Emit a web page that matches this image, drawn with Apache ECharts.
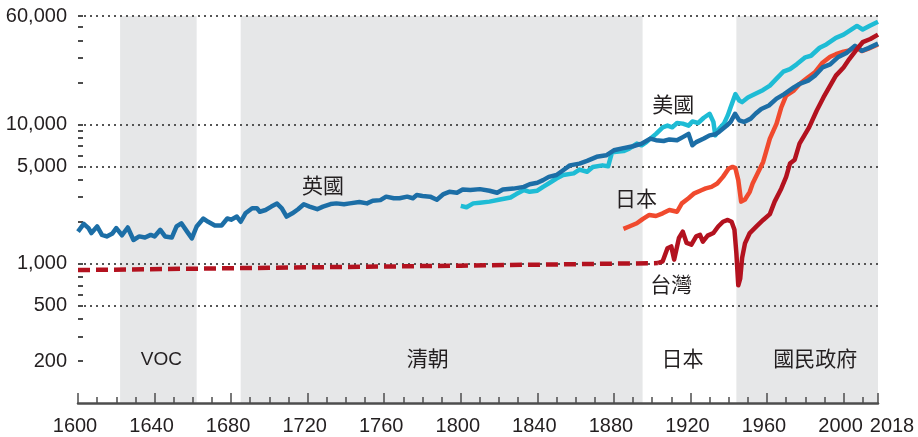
<!DOCTYPE html>
<html>
<head>
<meta charset="utf-8">
<script src="https://cdn.jsdelivr.net/npm/echarts@6/dist/echarts.min.js"></script>
<style>
  html, body { margin: 0; padding: 0; background: #fff; }
  #chart { width: 918px; height: 437px; }
</style>
</head>
<body>
<div id="chart"></div>
<script>
// ====== 人均GDP 長期比較（對數座標）======

const NUM_FONT = "'Liberation Sans Narrow', 'Liberation Sans', Arial, sans-serif";
const CJK_FONT = "'Noto Sans CJK TC', 'Noto Sans CJK SC', sans-serif";
const TXT = '#231f20';
const AX = '#4d4d4d';

// ---- 座標刻度 ----
const yLabelValues = [200, 500, 1000, 5000, 10000, 60000];
const yGridValues  = [500, 1000, 5000, 10000, 60000];
const yMinorValues = [300, 400, 600, 700, 800, 900, 2000, 3000, 4000,
                      6000, 7000, 8000, 9000, 20000, 30000, 40000, 50000];
const xLabelYears  = [1600, 1640, 1680, 1720, 1760, 1800, 1840, 1880, 1920, 1960, 2000, 2018];
const xMinorYears  = [1600, 1610, 1620, 1630, 1640, 1650, 1660, 1670, 1680, 1690, 1700,
                      1710, 1720, 1730, 1740, 1750, 1760, 1770, 1780, 1790, 1800, 1810,
                      1820, 1830, 1840, 1850, 1860, 1870, 1880, 1890, 1900, 1910, 1920,
                      1930, 1940, 1950, 1960, 1970, 1980, 1990, 2000, 2010, 2018];

// ---- 時期 ----
const periodNames = ['VOC', '清朝', '日本', '國民政府'];
const periodStart = [1622, 1685, 1895, 1944];
const periodEnd   = [1662, 1895, 1944, 2018];

// ---- 資料 [年, 值] ----
const ukData = [
  [1600,1700],[1603,1930],[1605.5,1800],[1607,1660],[1610,1850],[1612.5,1610],[1615,1570],
  [1618,1650],[1620,1800],[1623,1600],[1626,1820],[1629,1480],[1632,1570],[1635,1540],
  [1638,1610],[1640,1570],[1643,1750],[1645.5,1570],[1649,1540],[1651.5,1850],[1654,1950],
  [1657,1700],[1659.5,1520],[1662,1850],[1665.5,2110],[1668,2000],[1671.5,1880],[1675,1880],
  [1678,2110],[1680,2070],[1683,2180],[1685,2000],[1687.5,2300],[1691,2500],[1693.5,2500],
  [1695,2360],[1698,2430],[1701,2570],[1704,2700],[1706.5,2500],[1709,2180],[1712,2300],
  [1715,2460],[1718,2670],[1721,2570],[1725,2460],[1728,2570],[1732,2680],[1735,2710],
  [1739,2670],[1742,2710],[1747,2770],[1751,2710],[1754,2830],[1758,2860],[1761,3030],
  [1765,2950],[1768,2950],[1772,3030],[1775,2950],[1777,3110],[1780,3060],[1784,3030],
  [1787.5,2880],[1791,3160],[1794,3280],[1798,3230],[1801,3410],[1805,3380],[1810,3430],
  [1815,3340],[1819,3230],[1822,3410],[1827.5,3460],[1833,3560],[1836,3720],[1840,3810],
  [1843,3980],[1846,4200],[1850,4330],[1853.5,4690],[1857,5080],[1862,5230],[1866,5470],
  [1871,5850],[1876,6000],[1880,6520],[1885,6750],[1890,6970],[1894.5,7280],[1899,7910],
  [1902,7700],[1906,7600],[1909,7800],[1913,7690],[1916,8100],[1919,8550],[1921,7080],
  [1923,7460],[1927,7910],[1930,8340],[1933,8490],[1935,8850],[1939,9800],[1941,10420],
  [1943.3,11920],[1945.5,10680],[1948,10420],[1951.5,11000],[1954,11920],[1957,12900],
  [1961,13670],[1965,15300],[1969,16490],[1974,18420],[1977,19500],[1981.5,20610],
  [1985,22390],[1989,25650],[1993,27000],[1997,30280],[2001.5,32600],[2006,36650],
  [2007.5,35600],[2009.5,33760],[2013,35300],[2018,38000]
];

const usData = [
  [1800,2600],[1803,2540],[1806.5,2710],[1810,2740],[1815,2790],[1820.5,2890],[1826,2990],
  [1829,3160],[1833,3380],[1836,3280],[1840,3340],[1843,3560],[1846.5,3810],[1850,4090],
  [1853.5,4330],[1859,4450],[1862,4740],[1866,4570],[1869,4950],[1874,5080],[1877,5000],
  [1879,6300],[1885,6430],[1888,6700],[1892,7280],[1894.5,7080],[1897,7460],[1900,8100],
  [1902,8550],[1905.5,9530],[1908,9800],[1910.5,9530],[1913,10230],[1916,10130],[1919,9800],
  [1921,10500],[1924,10230],[1927,11160],[1930,11920],[1932,10420],[1933,8340],[1935,9300],
  [1937.5,10130],[1939.5,11600],[1941,13280],[1943.5,16490],[1945.5,14840],[1947,14450],
  [1950,15610],[1954.5,16720],[1958,17680],[1961.5,18990],[1965,21300],[1968.5,23900],
  [1972,24950],[1975.5,27000],[1980,30280],[1983,31100],[1987.5,35500],[1991,37500],
  [1996,41800],[2000,44100],[2003,46900],[2007,50900],[2010,48000],[2013.5,50900],[2018,54500]
];

const jpData = [
  [1885,1780],[1888,1850],[1892,1950],[1895,2090],[1898.5,2240],[1902,2200],[1905.5,2300],
  [1909,2430],[1913,2360],[1915.5,2710],[1919,2950],[1922,3200],[1926,3380],[1928,3470],
  [1931,3560],[1934,3760],[1937,4200],[1940,4820],[1942,4950],[1943.5,4850],[1945,3980],
  [1946.5,2790],[1948.5,2890],[1951,3280],[1952.5,3760],[1955.5,4570],[1958,5380],
  [1961.5,7910],[1965,10130],[1967.5,13280],[1970,16110],[1974,17490],[1977,19500],
  [1981.5,21800],[1985,23600],[1989,27700],[1993,30600],[1996,31900],[2000,33300],
  [2003,34000],[2006,36000],[2009.5,33600],[2013,35000],[2018,37500]
];

const twEarlyData = [[1600,900],[1700,935],[1800,968],[1903,1010]];

const twData = [
  [1903,1010],[1905.5,1040],[1908,1290],[1910,1330],[1911.5,1070],[1914,1530],[1916,1700],
  [1918,1410],[1920.5,1370],[1923,1570],[1925,1610],[1926.5,1440],[1929,1590],[1932,1660],
  [1934.5,1850],[1937,2000],[1939.5,2060],[1941.5,2000],[1943,1750],[1944,1190],[1945,700],
  [1946,780],[1947,1100],[1948.5,1400],[1951,1660],[1954.5,1850],[1958,2060],[1961.5,2270],
  [1964,2790],[1967.5,3470],[1970,4200],[1972,5230],[1974.5,5580],[1977,7280],[1980,8550],
  [1982,9530],[1986,12590],[1989.5,15610],[1993,18990],[1996,22390],[2000,25650],
  [2003,29440],[2007,34740],[2010,38920],[2014,41000],[2018,44100]
];

// ---- 工具 ----
const lg = v => Math.log10(v);
const toLog = arr => arr.map(p => [p[0], lg(p[1])]);
const fmtNum = n => String(n).replace(/\B(?=(\d{3})+(?!\d))/g, ',');

// 時期底色與標籤偏移
const periodFill = ['#e6e7e8', '#e6e7e8', 'rgba(0,0,0,0)', '#e6e7e8'];
const periodDx   = [3, -14, -7, 8];

const markAreaData = periodNames.map((nm, i) => [
  {
    name: nm, xAxis: periodStart[i],
    itemStyle: { color: periodFill[i] },
    label: {
      offset: [periodDx[i], 0],
      fontFamily: nm === 'VOC' ? "'Liberation Sans', Arial, sans-serif" : CJK_FONT,
      fontSize: nm === 'VOC' ? 19 : 21
    }
  },
  { xAxis: periodEnd[i] }
]);

function lineLabel(name, year, value){
  return {
    symbol: 'rect', symbolSize: 1,
    itemStyle: { color: 'rgba(0,0,0,0)' },
    label: { show: true, position: 'inside', formatter: '{b}',
             color: TXT, fontFamily: CJK_FONT, fontSize: 21 },
    data: [{ name: name, coord: [year, lg(value)] }]
  };
}

function lineSeries(name, data, color, z, extra){
  return Object.assign({
    name: name, type: 'line', data: toLog(data),
    showSymbol: false, symbol: 'none', z: z, silent: true,
    lineStyle: { color: color, width: 4.5, join: 'round' }
  }, extra || {});
}

const chart = echarts.init(document.getElementById('chart'), null, { renderer: 'canvas' });

const yMin = lg(100), yMax = lg(60000);

chart.setOption({
  animation: false,
  backgroundColor: '#fff',
  grid: { left: 78, right: 40, top: 16, bottom: 34, containLabel: false },
  xAxis: [{
    type: 'value', min: 1600, max: 2018, position: 'bottom', z: 2,
    axisLine: { show: true, onZero: false, lineStyle: { color: AX, width: 2.5 } },
    axisTick: { show: true, inside: true, length: 6, customValues: xMinorYears,
                lineStyle: { color: AX, width: 1.5 } },
    axisLabel: {
      customValues: xLabelYears, margin: 13, padding: [0, 6, 0, 0],
      color: TXT, fontFamily: NUM_FONT, fontSize: 20,
      formatter: v => v === 2018 ? '{e|2018}' : String(v),
      rich: { e: { fontFamily: NUM_FONT, fontSize: 20, color: TXT, padding: [0, 0, 4, 34] } }
    },
    splitLine: { show: false }
  }, {
    type: 'value', min: 1600, max: 2018, position: 'bottom', z: 2,
    axisLine: { show: false, onZero: false },
    axisTick: { show: true, inside: true, length: 10, customValues: xLabelYears,
                lineStyle: { color: AX, width: 1.5 } },
    axisLabel: { show: false },
    splitLine: { show: false }
  }],
  yAxis: [{
    type: 'value', min: yMin, max: yMax, position: 'left', z: 2,
    axisLine: { show: false, onZero: false },
    axisTick: { show: true, inside: true, length: 5,
                customValues: yLabelValues.concat(yMinorValues).map(lg),
                lineStyle: { color: AX, width: 2 } },
    axisLabel: {
      customValues: yLabelValues.map(lg), margin: 11,
      color: TXT, fontFamily: NUM_FONT, fontSize: 20,
      formatter: v => fmtNum(Math.round(Math.pow(10, v)))
    },
    splitLine: { show: false }
  }, {
    type: 'value', min: yMin, max: yMax, position: 'left', offset: 0, z: 2,
    axisLine: { show: false, onZero: false },
    axisTick: { show: false, customValues: yGridValues.map(lg) },
    axisLabel: { show: false },
    splitLine: { show: true, lineStyle: { color: '#555', width: 2, type: [2, 4] } }
  }],
  series: [
    lineSeries('台灣(早期)', twEarlyData, '#b3121f', 3, {
      lineStyle: { color: '#b3121f', width: 4.5, type: [12, 6] },
      markArea: { silent: true, z: 1,
        label: { show: true, position: 'insideBottom', distance: 34, color: TXT },
        data: markAreaData }
    }),
    lineSeries('日本', jpData, '#f04a2e', 3, { markPoint: lineLabel('日本', 1891.5, 2960) }),
    lineSeries('美國', usData, '#1ebcd5', 4, { markPoint: lineLabel('美國', 1911, 14100) }),
    lineSeries('英國', ukData, '#1c6ea6', 5, { markPoint: lineLabel('英國', 1728, 3670) }),
    lineSeries('台灣', twData, '#b3121f', 6, { markPoint: lineLabel('台灣', 1910, 720) })
  ]
});
</script>
</body>
</html>
